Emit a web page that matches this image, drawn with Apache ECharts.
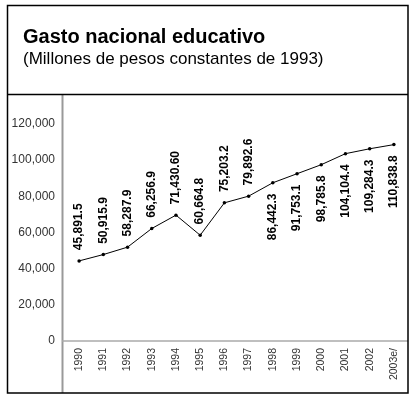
<!DOCTYPE html>
<html>
<head>
<meta charset="utf-8">
<script src="https://cdn.jsdelivr.net/npm/echarts@6/dist/echarts.min.js"></script>
<style>
  html, body { margin: 0; padding: 0; background: #fff; }
  #chart { width: 413px; height: 398px; }
</style>
</head>
<body>
<div id="chart"></div>
<script>
const years = ["1990", "1991", "1992", "1993", "1994", "1995", "1996", "1997",
  "1998", "1999", "2000", "2001", "2002", "2003e/"];
// where the markers sit on the drawing
const gasto = [44300, 47800, 51900, 62200, 69600, 58500, 76400, 80100,
  87500, 92500, 97500, 103600, 106300, 108600];
// printed values
const etiquetas = ["45,891.5", "50,915.9", "58,287.9", "66,256.9", "71,430.60", "60,664.8",
  "75,203.2", "79,892.6", "86,442.3", "91,753.1", "98,785.8", "104,104.4",
  "109,284.3", "110,838.8"];
const lado = ["top", "top", "top", "top", "top", "top", "top", "top",
  "bottom", "bottom", "bottom", "bottom", "bottom", "bottom"];

const fmtMiles = v => String(v).replace(/\B(?=(\d{3})+(?!\d))/g, ",");

const chart = echarts.init(document.getElementById("chart"), null, { renderer: "canvas" });

const datos = gasto.map((v, i) => ({
  value: v,
  label: {
    position: lado[i],
    align: lado[i] === "top" ? "left" : "right",
    formatter: etiquetas[i]
  }
}));

const option = {
  animation: false,
  backgroundColor: "#fff",
  title: {
    text: "Gasto nacional educativo",
    subtext: "(Millones de pesos constantes de 1993)",
    left: 18,
    top: 22,
    itemGap: 4,
    textStyle: { fontFamily: "Liberation Sans", fontSize: 20, fontWeight: "bold", color: "#000" },
    subtextStyle: { fontFamily: "Liberation Sans", fontSize: 17, color: "#000" }
  },
  grid: { left: 67, right: 7, top: 124, bottom: 57 },
  xAxis: {
    type: "category",
    data: years,
    axisLine: { show: false },
    axisTick: { show: false },
    axisLabel: {
      interval: 0,
      rotate: 90,
      margin: 7,
      fontFamily: "Liberation Sans",
      fontSize: 10.5,
      color: "#333"
    }
  },
  yAxis: {
    type: "value",
    min: 0,
    max: 120000,
    interval: 20000,
    axisLine: { show: false },
    axisTick: { show: false },
    splitLine: { show: false },
    axisLabel: {
      margin: 12,
      fontFamily: "Liberation Sans",
      fontSize: 12,
      color: "#333",
      formatter: fmtMiles
    }
  },
  series: [{
    type: "line",
    data: datos,
    symbol: "circle",
    symbolSize: 3.5,
    itemStyle: { color: "#000" },
    lineStyle: { color: "#000", width: 1 },
    label: {
      show: true,
      rotate: 90,
      distance: 9,
      verticalAlign: "middle",
      fontFamily: "Liberation Sans",
      fontSize: 12,
      fontWeight: "bold",
      color: "#000"
    }
  }],
  graphic: [
    { type: "rect", shape: { x: 7.5, y: 5.5, width: 400.5, height: 387.5 },
      style: { fill: null, stroke: "#000", lineWidth: 1.5 }, z: 10 },
    { type: "line", shape: { x1: 7.5, y1: 94.5, x2: 408, y2: 94.5 },
      style: { stroke: "#000", lineWidth: 1.5 }, z: 10 },
    { type: "line", shape: { x1: 62.5, y1: 95, x2: 62.5, y2: 393 },
      style: { stroke: "#999", lineWidth: 2 }, z: 5 },
    { type: "line", shape: { x1: 62, y1: 341, x2: 408, y2: 341 },
      style: { stroke: "#aaa", lineWidth: 1.5 }, z: 5 }
  ]
};

chart.setOption(option);
</script>
</body>
</html>
